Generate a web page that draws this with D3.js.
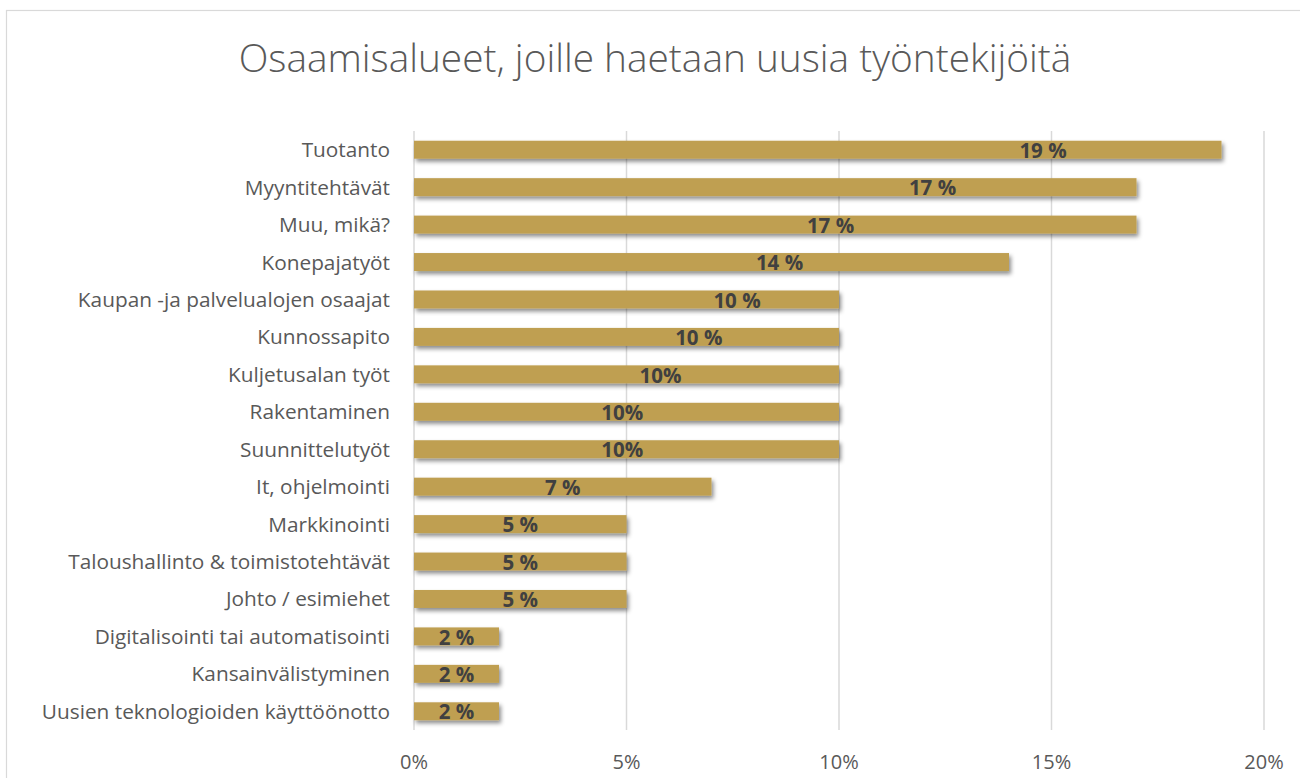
<!DOCTYPE html>
<html lang="fi">
<head>
<meta charset="utf-8">
<title>Osaamisalueet</title>
<script src="https://cdn.jsdelivr.net/npm/d3@7"></script>
<style>
  body { margin: 0; background: #fff; }
  svg { display: block; font-family: "Open Sans", sans-serif; }
</style>
</head>
<body>
<script>
// data
var categories = ["Tuotanto", "Myyntitehtävät", "Muu, mikä?", "Konepajatyöt",
  "Kaupan -ja palvelualojen osaajat", "Kunnossapito", "Kuljetusalan työt",
  "Rakentaminen", "Suunnittelutyöt", "It, ohjelmointi", "Markkinointi",
  "Taloushallinto & toimistotehtävät", "Johto / esimiehet",
  "Digitalisointi tai automatisointi", "Kansainvälistyminen",
  "Uusien teknologioiden käyttöönotto"];
var values = [19, 17, 17, 14, 10, 10, 10, 10, 10, 7, 5, 5, 5, 2, 2, 2];
var valueLabels = ["19 %", "17 %", "17 %", "14 %", "10 %", "10 %", "10%", "10%", "10%",
  "7 %", "5 %", "5 %", "5 %", "2 %", "2 %", "2 %"];
// where each data label sits, in axis units (%)
var labelAt = [14.8, 12.2, 9.8, 8.6, 7.6, 6.7, 5.8, 4.9, 4.9, 3.5, 2.5, 2.5, 2.5, 1, 1, 1];
var ticks = [0, 5, 10, 15, 20];

var w = 1300, h = 778;
var margin = {left: 414, right: 36, top: 131, bottom: 48};

var svg = d3.select("body").append("svg")
  .attr("width", w).attr("height", h);

// outer chart border
svg.append("rect")
  .attr("x", 6.5).attr("y", 10.5)
  .attr("width", w + 20).attr("height", h + 20)
  .attr("fill", "none").attr("stroke", "#d9d9d9").attr("stroke-width", 1.2);

var defs = svg.append("defs");
defs.append("filter").attr("id", "shadow")
  .attr("x", "-5%").attr("y", "-50%").attr("width", "115%").attr("height", "250%")
  .append("feDropShadow")
  .attr("dx", 2).attr("dy", 3).attr("stdDeviation", 2)
  .attr("flood-color", "#000").attr("flood-opacity", 0.45);

var x = d3.scaleLinear().domain([0, 20]).range([margin.left, w - margin.right]);
var y = d3.scaleBand().domain(categories)
  .range([margin.top, h - margin.bottom]).paddingInner(0.52).paddingOuter(0.26);

// gridlines
svg.append("g").selectAll("line")
  .data(ticks).enter().append("line")
  .attr("x1", d => x(d)).attr("x2", d => x(d))
  .attr("y1", margin.top).attr("y2", h - margin.bottom)
  .attr("stroke", "#d9d9d9").attr("stroke-width", 1.5);

// x axis labels
svg.append("g").selectAll("text")
  .data(ticks).enter().append("text")
  .attr("x", d => x(d)).attr("y", 769)
  .attr("text-anchor", "middle")
  .attr("font-size", 20).attr("fill", "#595959")
  .text(d => d + "%");

// bars
svg.append("g").selectAll("rect")
  .data(values).enter().append("rect")
  .attr("x", x(0))
  .attr("y", (d, i) => y(categories[i]))
  .attr("width", d => x(d) - x(0))
  .attr("height", y.bandwidth())
  .attr("fill", "#bf9f51")
  .attr("filter", "url(#shadow)");

// category labels
svg.append("g").selectAll("text")
  .data(categories).enter().append("text")
  .attr("x", x(0) - 24)
  .attr("y", d => y(d) + y.bandwidth() / 2)
  .attr("dy", "0.36em")
  .attr("text-anchor", "end")
  .attr("font-size", 20.8).attr("fill", "#595959")
  .text(d => d);

// data labels
svg.append("g").selectAll("text")
  .data(valueLabels).enter().append("text")
  .attr("x", (d, i) => x(labelAt[i]))
  .attr("y", (d, i) => y(categories[i]) + y.bandwidth() / 2)
  .attr("dy", "0.4em")
  .attr("text-anchor", "middle")
  .attr("font-size", 20.5).attr("font-weight", "bold").attr("fill", "#404040")
  .text(d => d);

// title
svg.append("text")
  .attr("x", 655).attr("y", 72)
  .attr("text-anchor", "middle")
  .attr("font-size", 38.8).attr("font-weight", 300).attr("fill", "#595959")
  .text("Osaamisalueet, joille haetaan uusia työntekijöitä");
</script>
</body>
</html>
